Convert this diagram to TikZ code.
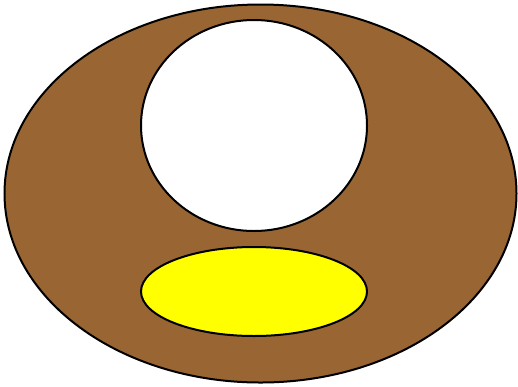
\documentclass[tikz,border=0pt]{standalone}
\usepackage{tikz}
\definecolor{crust}{RGB}{153,102,51}
\definecolor{yolk}{RGB}{255,255,0}
\tikzset{
  blob/.style={draw=black, line width=2pt},
}
\begin{document}
\begin{tikzpicture}[x=1pt, y=-1pt]
  \useasboundingbox (0,0) rectangle (518,386);
  % outer body
  \draw[blob, fill=crust] (260.5,193.5) ellipse [x radius=256, y radius=189];
  % hole
  \draw[blob, fill=white] (254,125.5) ellipse [x radius=113, y radius=105.5];
  % yellow spot
  \draw[blob, fill=yolk] (254,291.5) ellipse [x radius=113, y radius=44.5];
\end{tikzpicture}
\end{document}
